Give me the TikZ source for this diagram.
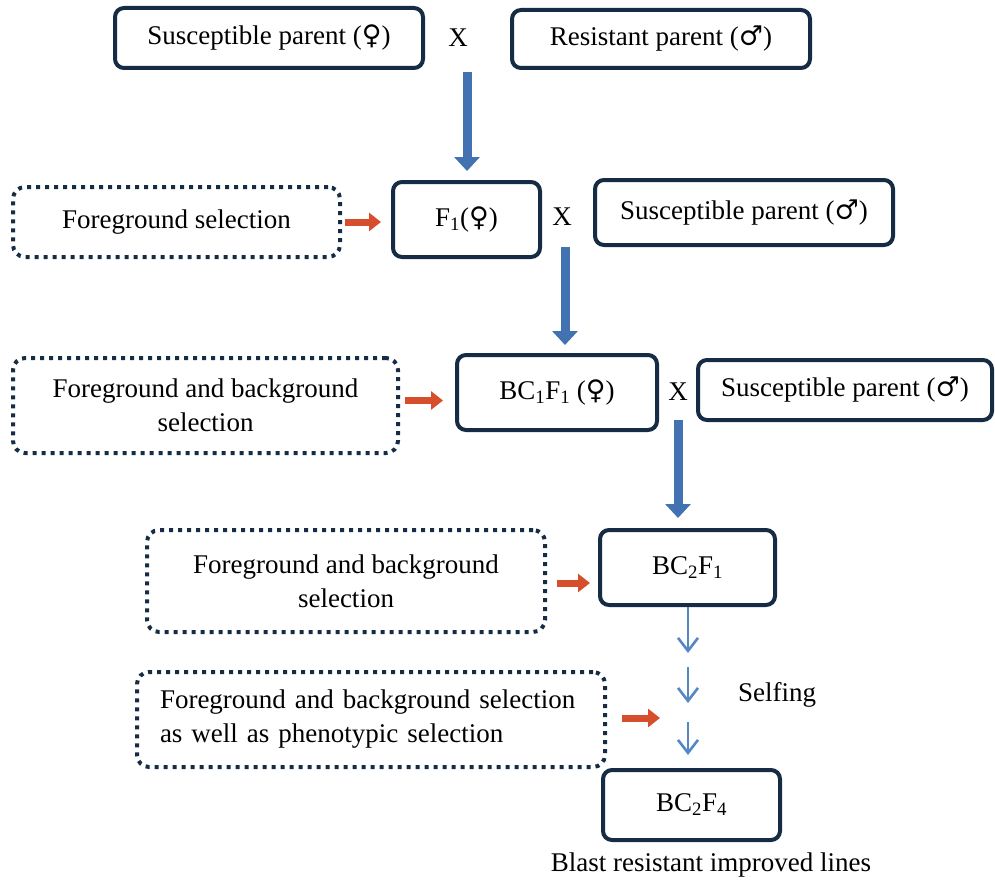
\documentclass[tikz,border=0pt]{standalone}
\usepackage{fontspec}
\setmainfont{Liberation Serif}
\newfontfamily\symfont{DejaVu Serif}
\usetikzlibrary{arrows.meta,calc}
\definecolor{navy}{RGB}{22,44,68}
\definecolor{bluearr}{RGB}{66,114,178}
\definecolor{thinblue}{RGB}{84,136,196}
\definecolor{redarr}{RGB}{214,78,44}
\newcommand{\femsym}{{\symfont ♀}}
\newcommand{\malsym}{{\symfont ♂}}
\begin{document}
\begin{tikzpicture}[x=1pt,y=-1pt,
  every node/.style={font=\fontsize{27}{34}\selectfont},
  solidbox/.style={draw=navy, line width=4pt, rounded corners=9pt, fill=white, inner sep=0pt, align=center},
  dotbox/.style={draw=navy, line width=4pt, dash pattern=on 4pt off 5pt, rounded corners=12pt, fill=white, inner sep=0pt, align=center},
  bigarrow/.style={draw=bluearr, line width=9pt, -{Triangle[width=25pt,length=14pt]}},
  redarrow/.style={draw=redarr, line width=7pt, -{Triangle[width=18pt,length=12pt]}},
  thinarrow/.style={draw=thinblue, line width=2.6pt, -{Straight Barb[width=20pt,length=13pt,line width=2.6pt]}},
  plain/.style={inner sep=0pt}
]
\useasboundingbox (0,0) rectangle (995,880);

% row 1
\node[solidbox, minimum width=308pt, minimum height=60pt] (s1) at (269,38) {Susceptible parent (\femsym)};
\node[plain] (x1) at (458,38) {X};
\node[solidbox, minimum width=298pt, minimum height=58pt] (r1) at (661,39) {Resistant parent (\malsym)};

% row 2
\node[dotbox, minimum width=327pt, minimum height=70pt] (fs1) at (176.5,222) {Foreground selection};
\node[solidbox, minimum width=147pt, minimum height=75pt] (f1) at (466.5,219.5) {F\textsubscript{1}(\femsym)};
\node[plain] (x2) at (562,217) {X};
\node[solidbox, minimum width=298pt, minimum height=65pt] (s2) at (744,212.5) {Susceptible parent (\malsym)};

% row 3
\node[dotbox, minimum width=385pt, minimum height=95pt] (fs2) at (205.5,405.5) {Foreground and background\\selection};
\node[solidbox, minimum width=200pt, minimum height=75pt] (bc1) at (557,392.5) {BC\textsubscript{1}F\textsubscript{1} (\femsym)};
\node[plain] (x3) at (678,392) {X};
\node[solidbox, minimum width=294pt, minimum height=60pt] (s3) at (845,390) {Susceptible parent (\malsym)};

% row 4
\node[dotbox, minimum width=398pt, minimum height=102pt] (fs3) at (346,581) {Foreground and background\\selection};
\node[solidbox, minimum width=175pt, minimum height=75pt] (bc2) at (687.5,567.5) {BC\textsubscript{2}F\textsubscript{1}};

% row 5
\node[dotbox, minimum width=468pt, minimum height=95pt, text width=422pt, align=left] (fs4) at (371,719.5) {Foreground and background selection\\as well as phenotypic selection};
\node[plain] (sf) at (777,695) {Selfing};

% row 6
\node[solidbox, minimum width=177pt, minimum height=70pt] (bc4) at (691.5,805) {BC\textsubscript{2}F\textsubscript{4}};
\node[plain] (bl) at (711,865) {Blast resistant improved lines};

% free ends
\coordinate (a1) at (467,72);
\coordinate (a2) at (565,247);
\coordinate (a3) at (678,420);
\coordinate (r4e) at (660,718);
\coordinate (t1e) at (688,653);
\coordinate (t2s) at (688,667);
\coordinate (t2e) at (688,703);
\coordinate (t3s) at (688,722);

% thick blue arrows
\draw[bigarrow, shorten >=9pt] (a1) -- (a1 |- f1.north);
\draw[bigarrow, shorten >=8pt] (a2) -- (a2 |- bc1.north);
\draw[bigarrow, shorten >=10pt] (a3) -- (a3 |- bc2.north);

% red arrows
\draw[redarrow, shorten <=3pt, shorten >=10pt] (fs1.east) -- (fs1.east -| f1.west);
\draw[redarrow, shorten <=5pt, shorten >=12pt] ([yshift=5pt]fs2.east) -- ([yshift=5pt]fs2.east -| bc1.west);
\draw[redarrow, shorten <=10pt, shorten >=8pt] ([yshift=-2pt]fs3.east) -- ([yshift=-2pt]fs3.east -| bc2.west);
\draw[redarrow, shorten <=15pt] ([yshift=1.5pt]fs4.east) -- (r4e);

% thin blue arrows (selfing)
\draw[thinarrow] (bc2.south -| t1e) -- (t1e);
\draw[thinarrow] (t2s) -- (t2e);
\draw[thinarrow, shorten >=13pt] (t3s) -- (t3s |- bc4.north);
\end{tikzpicture}
\end{document}
